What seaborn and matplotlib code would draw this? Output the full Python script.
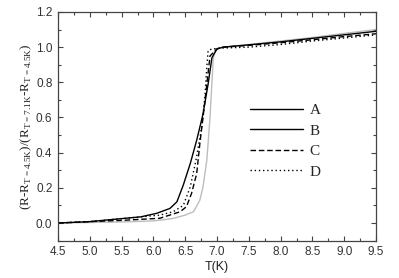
import numpy as np
import pandas as pd
import matplotlib
matplotlib.use("Agg")
import matplotlib.pyplot as plt
import seaborn as sns
from matplotlib.lines import Line2D
from matplotlib.ticker import MultipleLocator

# normalized resistance vs temperature
T_A = [4.5, 5.0, 5.5, 6.0, 6.3, 6.5, 6.63, 6.73, 6.78, 6.84, 6.89, 6.94, 6.97, 7.1, 7.5, 8.0, 8.5, 9.0, 9.5]
R_A = [0.0, 0.003, 0.006, 0.012, 0.025, 0.045, 0.064, 0.13, 0.206, 0.358, 0.60, 0.93, 0.99, 1.0, 1.015, 1.035, 1.055, 1.078, 1.10]

T_B = [4.5, 5.0, 5.5, 5.8, 6.05, 6.26, 6.37, 6.47, 6.58, 6.68, 6.78, 6.86, 6.92, 7.0, 7.1, 7.5, 8.0, 8.5, 9.0, 9.5]
R_B = [0.0, 0.008, 0.025, 0.035, 0.055, 0.083, 0.121, 0.216, 0.339, 0.47, 0.62, 0.79, 0.94, 0.99, 1.0, 1.013, 1.03, 1.05, 1.07, 1.09]

T_C = [4.5, 5.0, 5.5, 6.1, 6.42, 6.52, 6.60, 6.68, 6.73, 6.78, 6.84, 6.89, 7.0, 7.1, 7.5, 8.0, 8.5, 9.0, 9.5]
R_C = [0.0, 0.008, 0.015, 0.027, 0.064, 0.093, 0.169, 0.28, 0.45, 0.60, 0.79, 0.95, 0.99, 1.0, 1.01, 1.025, 1.042, 1.06, 1.076]

T_D = [4.5, 5.0, 5.5, 6.1, 6.31, 6.47, 6.58, 6.68, 6.76, 6.81, 6.84, 6.86, 6.92, 7.1, 7.5, 8.0, 8.5, 9.0, 9.5]
R_D = [0.0, 0.008, 0.025, 0.045, 0.064, 0.10, 0.206, 0.377, 0.547, 0.72, 0.89, 0.98, 0.99, 0.995, 1.0, 1.015, 1.035, 1.052, 1.07]

labels = ["A", "B", "C", "D"]

sns.set_style("ticks")
plt.rcParams["font.family"] = ["Liberation Sans", "DejaVu Sans"]

fig = plt.figure(figsize=(3.99, 2.78), dpi=100)
ax = fig.add_axes([0.1454, 0.1345, 0.797, 0.8225])

sns.lineplot(x=T_A, y=R_A, ax=ax, color="#bdbdbd", lw=1.0)
sns.lineplot(x=T_B, y=R_B, ax=ax, color="black", lw=1.0)
sns.lineplot(x=T_C, y=R_C, ax=ax, color="black", lw=1.0, linestyle=(0, (4, 2)))
sns.lineplot(x=T_D, y=R_D, ax=ax, color="black", lw=1.0, linestyle=(0, (1, 2)))

ax.set_xlim(4.5, 9.5)
ax.set_ylim(-0.1, 1.2)
ax.xaxis.set_major_locator(MultipleLocator(0.5))
ax.xaxis.set_minor_locator(MultipleLocator(0.25))
ax.yaxis.set_major_locator(MultipleLocator(0.2))
ax.yaxis.set_minor_locator(MultipleLocator(0.1))
ax.tick_params(which="both", direction="in", top=True, right=True,
               labelsize=8.5, color="#444444", labelcolor="#333333", width=0.8)
ax.tick_params(which="major", length=3.5, pad=4)
ax.tick_params(which="minor", length=2)
ax.yaxis.set_major_formatter(matplotlib.ticker.FormatStrFormatter("%.1f"))
for s in ax.spines.values():
    s.set_color("#444444")
    s.set_linewidth(0.9)

ax.set_xlabel("T(K)", fontsize=9, labelpad=2, color="#222222")
ax.set_ylabel(r"(R-R$_{\mathregular{T=4.5K}}$)/(R$_{\mathregular{T=7.1K}}$-R$_{\mathregular{T=4.5K}}$)",
              fontsize=9.5, family="Liberation Serif", labelpad=1.5, color="#222222")

styles = [("black", "-"), ("black", "-"), ("black", (0, (4, 2))), ("black", (0, (1, 2)))]
handles = [Line2D([], [], color=c, lw=1.0, linestyle=ls) for c, ls in styles]
ax.legend(handles, labels, loc="center left", bbox_to_anchor=(0.56, 0.435),
          frameon=False, handlelength=3.5, handletextpad=0.4, labelspacing=0.45,
          prop={"family": "Liberation Serif", "size": 11})

fig.savefig("out.png", dpi=100)
